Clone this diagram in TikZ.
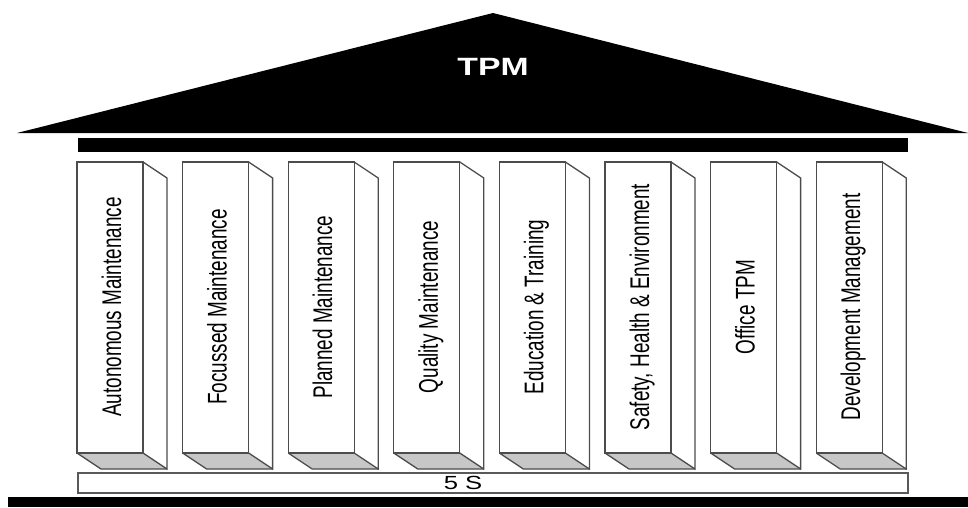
\documentclass[tikz,border=0pt]{standalone}
\usepackage{fontspec}
\setmainfont{Liberation Sans}
\newfontfamily\pillarfont[FakeStretch=0.7]{Liberation Sans}
\newfontfamily\rooffont[FakeStretch=1.35]{Liberation Sans}
\usetikzlibrary{positioning}

\tikzset{
  pillaredge/.style={draw=black!70, line width=1.3pt, line join=miter},
  pillarlabel/.style={rotate=90, anchor=base, inner sep=0pt,
    font=\pillarfont\fontsize{27}{32}\selectfont},
}

\begin{document}
\begin{tikzpicture}[x=1pt,y=-1pt]
\useasboundingbox (0,0) rectangle (968,507);
        \fill (17,133) -- (493,13) -- (968,133) -- cycle;
        \node[text=white, font=\rooffont\bfseries\fontsize{25}{30}\selectfont] (tpm) at (493,67) {TPM};
        \fill (78,138) rectangle (908,152);
        \foreach \name [count=\i from 0] in {Autonomous Maintenance, Focussed Maintenance,
            Planned Maintenance, Quality Maintenance, Education \& Training,
            {Safety, Health \& Environment}, Office TPM, Development Management} {
          \pgfmathsetmacro\px{77+105.6*\i}
          \fill[black!22] (\px,453) -- ++(66,0) -- ++(24,16) -- ++(-66,0) -- cycle;
          \draw[pillaredge] (\px,162) rectangle ++(66,291);
          \draw[pillaredge] (\px+66,162) -- ++(24,16) -- ++(0,291) -- ++(-24,-16);
          \draw[pillaredge] (\px,453) -- ++(24,16) -- ++(66,0);
          \node[pillarlabel] (pillar\i) at (\px+44,307) {\name};
        }
        \draw[draw=black!65, line width=1.3pt] (78,473) rectangle (908,493);
        \node[font=\rooffont\fontsize{19}{22}\selectfont, inner sep=0pt] (fives) at (463,483) {5 S};
        \fill (8,497) rectangle (968,507);
\end{tikzpicture}
\end{document}
